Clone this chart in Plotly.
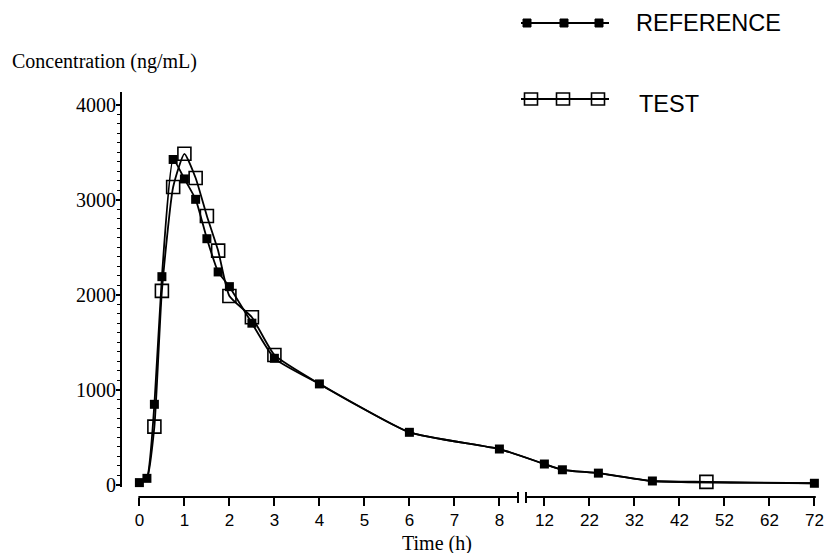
import plotly.graph_objects as go

# ---------------- data ----------------
ref_times = [0, 0.167, 0.333, 0.5, 0.75, 1, 1.25, 1.5, 1.75, 2, 2.5, 3, 4, 6, 8, 12, 16, 24, 36, 72]
ref_conc = [20, 65, 845, 2190, 3425, 3220, 3005, 2590, 2240, 2085, 1700, 1330, 1060, 550, 374, 216, 155, 120, 37, 13]

test_times = [0.333, 0.5, 0.75, 1, 1.25, 1.5, 1.75, 2, 2.5, 3, 48]
test_conc = [610, 2040, 3135, 3485, 3230, 2830, 2464, 1986, 1762, 1365, 28]

x_tick_hours = [0, 1, 2, 3, 4, 5, 6, 7, 8, 12, 22, 32, 42, 52, 62, 72]
y_tick_vals = [0, 1000, 2000, 3000, 4000]

# ---------------- broken time axis transform ----------------
BREAK_LO, BREAK_HI, LATE_SCALE = 8, 12, 10.0


def tx(t):
    """0-8 h linear; from 12 h on, 10 h per unit, 12 h placed at 9."""
    return t if t <= BREAK_LO else (BREAK_LO + 1) + (t - BREAK_HI) / LATE_SCALE


# test curve: test readings where they exist, reference readings elsewhere
all_times = sorted(set(ref_times) | set(test_times))
ref_map = dict(zip(ref_times, ref_conc))
test_map = dict(zip(test_times, test_conc))
test_line_t = list(all_times)
test_line_c = [test_map.get(t, ref_map.get(t)) for t in test_line_t]

# ---------------- layout geometry ----------------
W, H = 826, 553
PLOT_L, PLOT_R, PLOT_T, PLOT_B = 122, 817, 92, 497   # window pixels
L, T = PLOT_L, PLOT_T
R, B = W - PLOT_R, H - PLOT_B
PW, PH = PLOT_R - PLOT_L, PLOT_B - PLOT_T
XMIN, XMAX = -0.3867, 15.058


def xp(v):  # data x (transformed) -> paper
    return (v - XMIN) / (XMAX - XMIN)


def pxx(px):  # window pixel -> paper
    return (px - PLOT_L) / PW


def pxy(py):
    return (PLOT_B - py) / PH


fig = go.Figure()

line_style = dict(color="black", width=1.8, shape="spline", smoothing=0.5)

fig.add_trace(go.Scatter(
    x=[tx(t) for t in test_line_t], y=test_line_c, mode="lines",
    line=line_style, cliponaxis=False, showlegend=False, hoverinfo="skip"))

fig.add_trace(go.Scatter(
    x=[tx(t) for t in ref_times], y=ref_conc, mode="lines+markers",
    line=line_style, marker=dict(symbol="square", size=9, color="black"),
    cliponaxis=False, name="REFERENCE", showlegend=False))

fig.add_trace(go.Scatter(
    x=[tx(t) for t in test_times], y=test_conc, mode="markers",
    marker=dict(symbol="square-open", size=13, color="black", line=dict(width=1.6, color="black")),
    cliponaxis=False, name="TEST", showlegend=False))

# ---------------- axes ----------------
minor_y = [v for v in range(100, 4000, 100) if v % 1000 != 0]

fig.update_layout(
    width=W, height=H,
    margin=dict(l=L, r=R, t=T, b=B, autoexpand=False),
    plot_bgcolor="white", paper_bgcolor="white",
    xaxis=dict(
        range=[XMIN, XMAX], anchor="free", position=0,
        showgrid=False, zeroline=False, showline=False,
        tickmode="array", tickvals=[tx(h) for h in x_tick_hours],
        ticktext=[str(h) for h in x_tick_hours],
        ticks="outside", ticklen=8, tickwidth=2, tickcolor="black",
        ticklabeloverflow="allow",
        tickfont=dict(family="Liberation Sans, Arial, sans-serif", size=17, color="black"),
    ),
    yaxis=dict(
        range=[-26.3, 4136], domain=[10 / PH, 1],
        showgrid=False, zeroline=False,
        showline=True, linewidth=2, linecolor="black",
        tickmode="array", tickvals=y_tick_vals,
        ticks="outside", ticklen=4, tickwidth=1.5, tickcolor="black",
        ticklabelstandoff=-4,
        tickfont=dict(family="Liberation Serif, Times New Roman, serif", size=20, color="black"),
        minor=dict(tickmode="array", tickvals=minor_y, ticks="outside", ticklen=3,
                   tickwidth=1.2, tickcolor="black", showgrid=False),
    ),
)

# broken x-axis line
bl, bh = pxx(518), pxx(526)
shapes = [
    dict(type="line", xref="paper", yref="paper", x0=xp(tx(0)) - 0.0015, x1=bl, y0=0, y1=0,
         line=dict(color="black", width=2)),
    dict(type="line", xref="paper", yref="paper", x0=bh, x1=xp(tx(72)) + 0.002, y0=0, y1=0,
         line=dict(color="black", width=2)),
    dict(type="line", xref="paper", yref="paper", x0=bl, x1=bl, y0=pxy(503), y1=pxy(492),
         line=dict(color="black", width=2)),
    dict(type="line", xref="paper", yref="paper", x0=bh, x1=bh, y0=pxy(503), y1=pxy(492),
         line=dict(color="black", width=2)),
]

# legend glyphs
for ly in (23, 99):
    shapes.append(dict(type="line", xref="paper", yref="paper", x0=pxx(521), x1=pxx(609),
                       y0=pxy(ly), y1=pxy(ly), line=dict(color="black", width=1.8)))
for cx in (527, 564, 599):
    shapes.append(dict(type="rect", xref="paper", yref="paper",
                       x0=pxx(cx - 4), x1=pxx(cx + 4), y0=pxy(23 + 4), y1=pxy(23 - 4),
                       fillcolor="black", line=dict(color="black", width=1)))
for cx in (531, 563, 598):
    shapes.append(dict(type="rect", xref="paper", yref="paper",
                       x0=pxx(cx - 6.5), x1=pxx(cx + 6.5), y0=pxy(99 + 6), y1=pxy(99 - 6),
                       fillcolor="rgba(0,0,0,0)", line=dict(color="black", width=1.6)))
fig.update_layout(shapes=shapes)

sans = "Liberation Sans, Arial, sans-serif"
serif = "Liberation Serif, Times New Roman, serif"
fig.update_layout(annotations=[
    dict(text="REFERENCE", xref="paper", yref="paper", x=pxx(634), y=pxy(23),
         xanchor="left", yanchor="middle", showarrow=False, font=dict(family=sans, size=23.5, color="black")),
    dict(text="TEST", xref="paper", yref="paper", x=pxx(637), y=pxy(104),
         xanchor="left", yanchor="middle", showarrow=False, font=dict(family=sans, size=23.5, color="black")),
    dict(text="Concentration (ng/mL)", xref="paper", yref="paper", x=pxx(10), y=pxy(62),
         xanchor="left", yanchor="middle", showarrow=False, font=dict(family=serif, size=20, color="black")),
    dict(text="Time (h)", xref="paper", yref="paper", x=pxx(437), y=pxy(543),
         xanchor="center", yanchor="middle", showarrow=False, font=dict(family=serif, size=20, color="black")),
])

# remove the browser's default 8px page margin so the figure fills the window exactly
fig.write_html("out.html", config={"displayModeBar": False},
               post_script="document.body.style.margin='0';")
